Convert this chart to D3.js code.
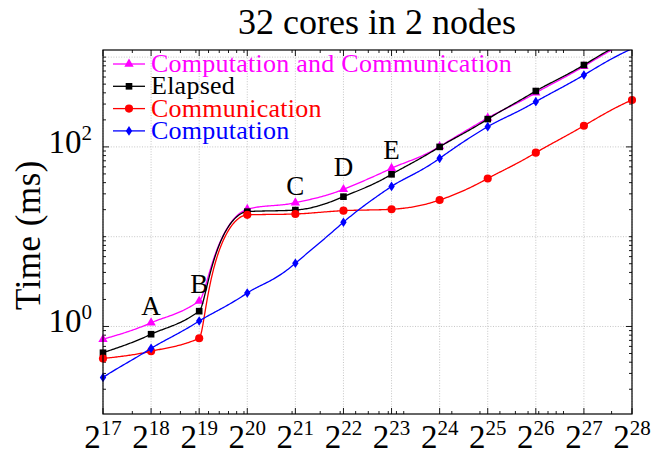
<!DOCTYPE html>
<html>
<head>
<meta charset="utf-8">
<script src="https://cdn.jsdelivr.net/npm/d3@7"></script>
<style>
  body { margin: 0; background: #fff; }
</style>
</head>
<body>
<svg id="chart" width="653" height="455" font-family="'Liberation Serif', 'DejaVu Serif', serif"></svg>
<script>
// powers of two on the x axis
var exps = [17, 18, 19, 20, 21, 22, 23, 24, 25, 26, 27, 28];

var compComm = [0.72, 1.10, 1.92, 20.2, 23.9, 33.7, 57.8, 101, 210, 400, 790, 1560];
var elapsed = [0.51, 0.82, 1.48, 19.0, 19.8, 27.9, 49.5, 100, 204, 419, 817, 1620];
var comm = [0.44, 0.53, 0.74, 17.5, 17.9, 19.5, 20.2, 25.6, 44.5, 86.2, 172, 333];
var comp = [0.27, 0.57, 1.15, 2.36, 5.06, 14.5, 36.3, 74.6, 168, 319, 632, 1240];

var seriesNames = ["Computation and Communication", "Elapsed", "Communication", "Computation"];
var seriesColors = ["#ff00ff", "#000000", "#ff0000", "#0000ff"];
var seriesMarkers = ["triangle", "square", "circle", "diamond"];

var noteLabels = ["A", "B", "C", "D", "E"];
var noteExps = [18, 19, 21, 22, 23];
var noteValues = [1.34, 2.36, 29.1, 47.4, 73.3];

var yTickValues = [1, 100];
var yGridValues = [1, 10, 100, 1000];

var margin = { top: 50, right: 21, bottom: 41, left: 103 };
var width = 653 - margin.left - margin.right;
var height = 455 - margin.top - margin.bottom;

var svg = d3.select("#chart");
var g = svg.append("g").attr("transform", "translate(" + margin.left + "," + margin.top + ")");

var x = d3.scaleLog().base(2).domain([Math.pow(2, 17), Math.pow(2, 28)]).range([0, width]);
var y = d3.scaleLog().domain([0.106, 1200]).range([height, 0]);

svg.append("defs").append("clipPath").attr("id", "clip")
  .append("rect").attr("width", width).attr("height", height);

// grid
g.selectAll("line.gx").data(exps).join("line")
  .attr("class", "gx")
  .attr("x1", (d) => x(Math.pow(2, d))).attr("x2", (d) => x(Math.pow(2, d)))
  .attr("y1", 0).attr("y2", height)
  .attr("stroke", "#b8b8b8").attr("stroke-width", 0.8).attr("stroke-dasharray", "1,1.6");
g.selectAll("line.gy").data(yGridValues).join("line")
  .attr("class", "gy")
  .attr("x1", 0).attr("x2", width)
  .attr("y1", (d) => y(d)).attr("y2", (d) => y(d))
  .attr("stroke", "#b8b8b8").attr("stroke-width", 0.8).attr("stroke-dasharray", "1,1.6");

// ticks, all inward, on all four sides
var xMinor = [];
for (var k = 5; k <= 8; k++) {
  for (var m = 1; m <= 9; m++) {
    var v = m * Math.pow(10, k);
    if (v > Math.pow(2, 17) && v < Math.pow(2, 28)) xMinor.push(v);
  }
}
var yMinor = [];
for (var k2 = -1; k2 <= 3; k2++) {
  for (var m2 = 1; m2 <= 9; m2++) {
    var v2 = m2 * Math.pow(10, k2);
    if (v2 > 0.106 && v2 < 1200 && yTickValues.indexOf(v2) < 0) yMinor.push(v2);
  }
}

function xTicks(vals, len) {
  [[height, -len], [0, len]].forEach((s) => {
    g.append("g").selectAll("line").data(vals).join("line")
      .attr("x1", (d) => x(d)).attr("x2", (d) => x(d))
      .attr("y1", s[0]).attr("y2", s[0] + s[1])
      .attr("stroke", "#000").attr("stroke-width", 0.9);
  });
}
function yTicks(vals, len) {
  [[0, len], [width, -len]].forEach((s) => {
    g.append("g").selectAll("line").data(vals).join("line")
      .attr("y1", (d) => y(d)).attr("y2", (d) => y(d))
      .attr("x1", s[0]).attr("x2", s[0] + s[1])
      .attr("stroke", "#000").attr("stroke-width", 0.9);
  });
}
xTicks(exps.map((e) => Math.pow(2, e)), 6);
xTicks(xMinor, 3);
yTicks(yTickValues, 6);
yTicks(yMinor, 3);

// tick labels
var xl = g.append("g").selectAll("text").data(exps).join("text")
  .attr("x", (d) => x(Math.pow(2, d)))
  .attr("y", height + 34)
  .attr("text-anchor", "middle")
  .attr("font-size", 33);
xl.append("tspan").text("2");
xl.append("tspan").attr("font-size", 21).attr("dy", -13).text((d) => d);

var yl = g.append("g").selectAll("text").data(yTickValues).join("text")
  .attr("x", -11)
  .attr("y", (d) => y(d) + 6)
  .attr("text-anchor", "end")
  .attr("font-size", 33);
yl.append("tspan").text("10");
yl.append("tspan").attr("font-size", 21).attr("dy", -13).text((d) => Math.round(Math.log10(d)));

// curves: d3's monotone curve run in (exponent, value) space, each piece projected through the scales
function smoothPath(vals) {
  var p = d3.path();
  var last;
  var ctx = {
    beginPath() {},
    closePath() {},
    moveTo(a, b) { last = [a, b]; p.moveTo(x(Math.pow(2, a)), y(b)); },
    lineTo(a, b) { last = [a, b]; p.lineTo(x(Math.pow(2, a)), y(b)); },
    bezierCurveTo(c1x, c1y, c2x, c2y, a, b) {
      for (var s = 1; s <= 40; s++) {
        var t = s / 40, u = 1 - t;
        var ex = u * u * u * last[0] + 3 * u * u * t * c1x + 3 * u * t * t * c2x + t * t * t * a;
        var ev = u * u * u * last[1] + 3 * u * u * t * c1y + 3 * u * t * t * c2y + t * t * t * b;
        p.lineTo(x(Math.pow(2, ex)), y(ev));
      }
      last = [a, b];
    }
  };
  d3.line().curve(d3.curveMonotoneX).context(ctx)(exps.map((e, i) => [e, vals[i]]));
  return p.toString();
}

var symbols = {
  triangle: d3.symbol().type(d3.symbolTriangle).size(38),
  square: d3.symbol().type(d3.symbolSquare).size(44),
  circle: d3.symbol().type(d3.symbolCircle).size(52),
  diamond: "M0,-4.8L3.2,0L0,4.8L-3.2,0Z"
};
function markerPath(type) {
  var s = symbols[type];
  return typeof s === "string" ? s : s();
}

var allSeries = [compComm, elapsed, comm, comp];
allSeries.forEach((vals, si) => {
  g.append("path")
    .attr("clip-path", "url(#clip)")
    .attr("d", smoothPath(vals))
    .attr("fill", "none")
    .attr("stroke", seriesColors[si])
    .attr("stroke-width", 1.3);
  var pts = exps.map((e, i) => [x(Math.pow(2, e)), y(vals[i])])
    .filter((p) => p[1] >= -0.5 && p[1] <= height + 0.5);
  g.append("g").selectAll("path").data(pts).join("path")
    .attr("transform", (d) => "translate(" + d[0] + "," + d[1] + ")")
    .attr("d", markerPath(seriesMarkers[si]))
    .attr("fill", seriesColors[si]);
});

// frame
g.append("rect").attr("width", width).attr("height", height)
  .attr("fill", "none").attr("stroke", "#000").attr("stroke-width", 1.2);

// A..E notes
g.append("g").selectAll("text").data(noteLabels).join("text")
  .attr("x", (d, i) => x(Math.pow(2, noteExps[i])))
  .attr("y", (d, i) => y(noteValues[i]))
  .attr("text-anchor", "middle")
  .attr("font-size", 27)
  .text((d) => d);

// legend
var leg = g.append("g").attr("transform", "translate(10,14)");
seriesNames.forEach((name, i) => {
  var row = leg.append("g").attr("transform", "translate(0," + (i * 22.3) + ")");
  row.append("line").attr("x1", 0).attr("x2", 32)
    .attr("stroke", seriesColors[i]).attr("stroke-width", 1.3);
  row.append("path").attr("transform", "translate(16,0)")
    .attr("d", markerPath(seriesMarkers[i])).attr("fill", seriesColors[i]);
  row.append("text").attr("x", 38).attr("y", 8)
    .attr("font-size", 26).attr("letter-spacing", 0.25)
    .attr("fill", seriesColors[i]).text(name);
});

// title and axis label
svg.append("text").attr("x", 377).attr("y", 34)
  .attr("text-anchor", "middle").attr("font-size", 36)
  .text("32 cores in 2 nodes");
svg.append("text").attr("transform", "translate(40,235) rotate(-90)")
  .attr("text-anchor", "middle").attr("font-size", 35).attr("letter-spacing", 0.5)
  .text("Time (ms)");
</script>
</body>
</html>
